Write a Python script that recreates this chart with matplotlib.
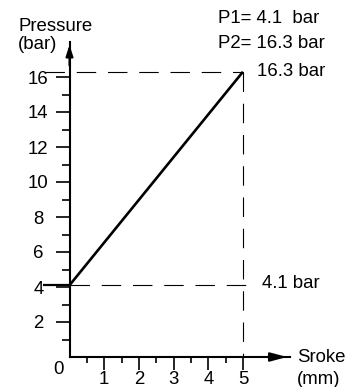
import numpy as np
import matplotlib
matplotlib.use("Agg")
import matplotlib.pyplot as plt

plt.rcParams.update({"font.family": ["Liberation Sans", "DejaVu Sans"], "font.size": 13.4,
                     "lines.scale_dashes": False})

# stroke (mm) vs pressure (bar)
stroke = [0, 5]
pressure = [4.1, 16.3]
p1, p2 = 4.1, 16.3
x_major = [1, 2, 3, 4, 5]
x_minor = [0.5, 1.5, 2.5, 3.5, 4.5]
y_major = [2, 4, 6, 8, 10, 12, 14, 16]
y_minor = [1, 3, 5, 7, 9, 11, 13, 15]

fig = plt.figure(figsize=(3.54, 3.87), dpi=100)
ax = fig.add_axes([69.5/354, 30/387, 220.3/354, 315/387])
ax.set_xlim(0, 6.35); ax.set_ylim(0, 18)
for s in ["top", "right"]: ax.spines[s].set_visible(False)
for s in ["left", "bottom"]: ax.spines[s].set_linewidth(1.5)

ax.set_xticks(x_major); ax.set_xticks(x_minor, minor=True)
ax.set_yticks(y_major); ax.set_yticks(y_minor, minor=True)
ax.set_xticklabels([str(v) for v in x_major])
ax.set_yticklabels([str(v) for v in y_major], ha="center")
ax.tick_params(axis="y", which="major", length=10, width=1.2, pad=12.5)
ax.tick_params(axis="y", which="minor", length=5.8, width=1.2)
ax.tick_params(axis="x", which="major", length=9.4, width=1.2, pad=0.5)
ax.tick_params(axis="x", which="minor", length=4.3, width=1.2)

# axis arrows
ax.annotate("", xy=(0, 18), xytext=(0, 16.5), annotation_clip=False,
            arrowprops=dict(arrowstyle="-|>,head_length=0.5,head_width=0.16", color="black", lw=1.5))
ax.annotate("", xy=(6.35, 0), xytext=(5.6, 0), annotation_clip=False,
            arrowprops=dict(arrowstyle="-|>,head_length=0.75,head_width=0.2", color="black", lw=1.5))

# reference dashes
dash = (14, 8.5)
ax.plot([-0.72, 5], [p2, p2], color="black", lw=0.8, dashes=dash, clip_on=False)
ax.plot([0, 5.1], [p1, p1], color="black", lw=0.8, dashes=dash, clip_on=False)
ax.plot([5, 5], [p2, 0], color="black", lw=0.8, dashes=dash, clip_on=False)
ax.plot([-0.77, 0], [p1, p1], color="black", lw=1.6, clip_on=False, solid_capstyle="butt")

ax.plot(stroke, pressure, color="black", lw=1.9, solid_capstyle="butt", clip_on=False)

ax.text(5.4, p2, f"{p2} bar", va="center", ha="left")
ax.text(5.55, p1 + 0.1, f"{p1} bar", va="center", ha="left")
ax.text(4.28, 19.37, f"P1= {p1}  bar", va="center", ha="left", clip_on=False)
ax.text(4.28, 17.94, f"P2= {p2} bar", va="center", ha="left", clip_on=False)
ax.text(-1.48, 18.86, "Pressure", va="center", ha="left")
ax.text(-1.48, 17.83, "(bar)", va="center", ha="left")
ax.text(6.56, 0, "Sroke", va="center", ha="left")
ax.text(6.56, -1.31, "(mm)", va="center", ha="left")
ax.text(-0.33, -0.69, "0", va="center", ha="center")

fig.savefig("out.png", dpi=100)
